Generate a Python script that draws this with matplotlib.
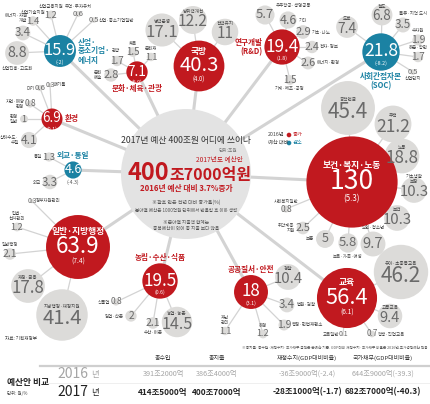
import matplotlib.pyplot as plt
from matplotlib.patches import Circle

plt.rcParams['font.family'] = ['Noto Sans CJK KR', 'DejaVu Sans']

RED = '#c1191f'
TEAL = '#1b82a3'
BUBBLE = '#dcdbd9'
CENTER = '#e3e3e3'
LINE = '#d3d3d3'

# ---- data (단위: 조원, 괄호 = 전년 대비 증가율 %) ----
main_names = ['보건·복지·노동', '일반·지방행정', '교육', '국방', '연구개발\n(R&D)',
              '사회간접자본\n(SOC)', '농림·수산·식품', '공공질서·안전',
              '산업·\n중소기업·\n에너지', '문화·체육·관광', '환경', '외교·통일']
main_values = [130, 63.9, 56.4, 40.3, 19.4, 21.8, 19.5, 18, 15.9, 7.1, 6.9, 4.6]
main_changes = ['5.3', '7.4', '6.1', '4.0', '1.8', '-8.2', '0.6', '3.1', '-2', '6.9', '0.1', '-4.3']

sub_names = [
    ['공적연금', '주택', '노동', '기초생활\n보장', '보건', '노인·청소년', '보육·가족·여성', '보훈', '취약계층\n지원', '사회복지일반'],
    ['지방행정·재정지원', '재정·금융', '일반행정', '입법·\n선거관리', '정부자원관리'],
    ['유아·초중등교육', '고등교육', '평생·직업교육', '교육일반'],
    ['병력운영', '방위력개선', '전력유지'],
    ['우주항공·생명공동', '기타', '기초·나노', '전자·정보', '에너지·환경', '기계·제조·공정'],
    ['도로', '철도', '물류·지역 도시', '수자원', '해운·항만', '산업단지'],
    ['농업·농촌', '수산·어촌', '임업·산촌', '식품업'],
    ['경찰', '법원·검찰', '행정·헌법재판소', '해경', '재난\n관리'],
    ['산업진흥·고도화', '에너지·자원\n개발', '산업기술지원', '산업금융지원', '무역·투자유치', '산업·중소기업일반'],
    ['문화\n예술', '관광', '체육', '문화재'],
    ['상하수도·\n수질', '환경\n일반', '자연·해양\n환경', '대기', '폐기물'],
    ['외교', '통일'],
]
sub_values = [
    [45.4, 21.2, 18.8, 10.3, 10.3, 9.7, 5.8, 5, 2.5, 0.8],
    [41.4, 17.8, 2.1, 1.2, 0.3],
    [46.2, 9.4, 0.7, 0.1],
    [17.1, 12.2, 11],
    [5.7, 4.6, 2.9, 2.4, 2.6, 1.5],
    [7.4, 6.8, 3.5, 1.9, 1.7, 0.5],
    [14.5, 2.1, 2, 0.8],
    [10.4, 3.4, 1.9, 1.2, 1.1],
    [8.8, 3.4, 1.4, 1.2, 0.6, 0.5],
    [2.8, 1.7, 1.5, 1.1],
    [4.1, 1, 0.8, 0.6, 0.3],
    [3.3, 1.3],
]

table_cols = ['총수입', '총지출', '재정수지(GDP대비비율)', '국가채무(GDP대비비율)']
table_years = ['2016', '2017']
row_2016 = ['391조2000억', '386조4000억', '-36조9000억(-2.4)', '644조9000억(-39.3)']
row_2017 = ['414조5000억', '400조7000억', '-28조1000억(-1.7)', '682조7000억(-40.3)']

# ---- layout (pixels) ----
K = 4.0  # radius = K * sqrt(value)
cx, cy, cr = 186, 174, 65
main_xy = [(352, 182), (78, 247), (347, 298), (199, 66), (282, 47), (381, 52),
           (160, 281), (251, 292), (60, 51), (137, 72), (52, 119), (73, 170)]
main_mode = ['in', 'in', 'in', 'in', 'l', 'b', 't', 't', 'r', 'b', 'r', 't']
sub_xy = [
    [(348, 108, 'in'), (393, 124, 'in'), (402, 156, 'in'), (414, 190, 'in'), (397, 218, 'in'),
     (373, 244, 't'), (348, 243, 'b'), (325, 239, 'l'), (303, 228, 'l'), (286, 209, 't')],
    [(62, 315, 'in'), (28, 286, 'in'), (10, 254, 't'), (17, 227, 't'), (32, 201, 'r')],
    [(401, 272, 'in'), (390, 316, 'in'), (372, 334, 'r'), (343, 334, 'l')],
    [(162, 30, 'in'), (193, 20, 'in'), (225, 32, 'in')],
    [(265, 15, 'rt'), (288, 20, 'r'), (303, 32, 'r'), (312, 47, 'r'), (308, 63, 'r'), (290, 80, 'b')],
    [(347, 27, 'in'), (382, 15, 'in'), (403, 25, 'tr'), (418, 40, 't'), (418, 57, 't'), (413, 72, 'b')],
    [(177, 322, 'in'), (153, 323, 'b'), (131, 316, 'l'), (116, 302, 'l')],
    [(288, 277, 'in'), (287, 305, 'r'), (284, 325, 'r'), (263, 334, 't'), (225, 331, 't')],
    [(17, 53, 'b'), (23, 33, 'tl'), (33, 21, 't'), (51, 15, 't'), (78, 14, 't'), (94, 20, 'r')],
    [(111, 75, 'l'), (117, 61, 'tl'), (133, 52, 't'), (151, 57, 't')],
    [(29, 140, 'l'), (24, 119, 'l'), (30, 104, 'l'), (40, 88, 'l'), (50, 85, 'r')],
    [(50, 182, 'l'), (49, 157, 'l')],
]


def num_fs(r):
    return max(5.0, 3.4 * r ** 0.45)


def fmt(v):
    return ('%g' % v)


def side_label(ax, x, y, r, mode, text, fs, color, weight='normal'):
    kw = dict(fontsize=fs, color=color, fontweight=weight, linespacing=1.0, zorder=5)
    if mode == 't':
        ax.text(x, y - r - 1.5, text, ha='center', va='bottom', **kw)
    elif mode == 'b':
        ax.text(x, y + r + 1.5, text, ha='center', va='top', **kw)
    elif mode == 'l':
        ax.text(x - r - 2, y, text, ha='right', va='center', **kw)
    elif mode == 'r':
        ax.text(x + r + 2, y, text, ha='left', va='center', **kw)
    elif mode == 'tr':
        ax.text(x - r * 0.6, y - r - 1.5, text, ha='left', va='bottom', **kw)
    elif mode == 'tl':
        ax.text(x + r * 0.6, y - r - 2.5, text, ha='right', va='bottom', **kw)
    elif mode == 'rt':
        ax.text(x + r + 1, y - r + 0.5, text, ha='left', va='center', **kw)


fig = plt.figure(figsize=(4.3, 4.04), dpi=100)
ax = fig.add_axes([0, 0, 1, 1])
ax.set_xlim(0, 430)
ax.set_ylim(404, 0)
ax.axis('off')

# center circle
ax.add_patch(Circle((cx, cy), cr, facecolor=CENTER, edgecolor='none', zorder=2))

for i, (mx, my) in enumerate(main_xy):
    ax.plot([cx, mx], [cy, my], color=LINE, lw=2.2, zorder=1, solid_capstyle='butt')
    mr = K * main_values[i] ** 0.5
    col = TEAL if main_changes[i].startswith('-') else RED
    # satellites
    for j, (sx, sy, mode) in enumerate(sub_xy[i]):
        v = sub_values[i][j]
        sr = K * v ** 0.5
        ax.plot([mx, sx], [my, sy], color=LINE, lw=0.9, zorder=1)
        ax.add_patch(Circle((sx, sy), sr, facecolor=BUBBLE, edgecolor='none', zorder=2))
        fs = num_fs(sr)
        h = fs * 1.389 * 0.72
        if mode == 'in':
            ax.text(sx, sy + 0.14 * sr, fmt(v), ha='center', va='center',
                    fontsize=fs, color='#6a6a6a', zorder=5)
            ax.text(sx, sy + 0.14 * sr - h / 2 - 2.5, sub_names[i][j], ha='center',
                    va='bottom', fontsize=3.3, color='#444444', linespacing=1.0, zorder=5)
        else:
            ax.text(sx, sy, fmt(v), ha='center', va='center', fontsize=fs,
                    color='#6a6a6a', zorder=5)
            side_label(ax, sx, sy, sr, mode, sub_names[i][j], 3.2, '#444444')

    # main bubble
    ax.add_patch(Circle((mx, my), mr, facecolor=col, edgecolor='none', zorder=3))
    fs = num_fs(mr)
    h = fs * 1.389 * 0.72
    ax.text(mx, my - 0.5, fmt(main_values[i]), ha='center', va='center', fontsize=fs,
            color='white', zorder=5)
    ch = '(' + main_changes[i] + ')'
    if mr >= 10:
        ax.text(mx, my + h / 2 + 2.5, ch, ha='center', va='top', fontsize=max(3.8, fs * 0.3),
                color='white', zorder=5)
    else:
        ax.text(mx, my + mr + 1, ch, ha='center', va='top', fontsize=3.8,
                color='#555555', zorder=5)
    if main_mode[i] == 'in':
        ax.text(mx, my - h / 2 - 3, main_names[i], ha='center', va='bottom',
                fontsize=6.3, color='white', fontweight='bold', zorder=5)
    else:
        side_label(ax, mx, my, mr, main_mode[i], main_names[i], 5.5, col, 'bold')

# center texts
ax.text(cx, cy - 34, '2017년 예산 400조원 어디에 쓰이나', ha='center', va='center',
        fontsize=6.3, color='#333333', zorder=5)
ax.text(cx + 42, cy - 24, '단위:조원', ha='center', va='center', fontsize=3.4,
        color='#777777', zorder=5)
ax.text(cx + 33, cy - 14, '2017년도 예산안', ha='center', va='center', fontsize=4.8,
        color=RED, zorder=5)
ax.text(cx - 17, cy - 1, '400', ha='right', va='center', fontsize=17, color=RED,
        fontweight='bold', zorder=5)
ax.text(cx - 17, cy + 1, '조7000억원', ha='left', va='center', fontsize=11.5, color=RED,
        fontweight='bold', zorder=5)
ax.text(cx, cy + 14, '2016년 예산 대비 3.7%증가', ha='center', va='center', fontsize=5.6,
        color=RED, fontweight='bold', zorder=5)
ax.text(cx, cy + 28, '※괄호 안은 전년 대비 증가율(%)', ha='center', va='center',
        fontsize=3.6, color='#555555', zorder=5)
ax.text(cx, cy + 36, '분야별 예산은 1000억원 단위에서 반올림 후 이하 생략', ha='center',
        va='center', fontsize=3.3, color='#555555', zorder=5)
ax.text(cx, cy + 48, '※분야별 지출액 합계는', ha='center', va='center', fontsize=3.4,
        color='#555555', zorder=5)
ax.text(cx, cy + 54, '중복예산이 있어 총 지출 보다 많음', ha='center', va='center',
        fontsize=3.4, color='#555555', zorder=5)

# legend
ax.text(268, 135, '2016년', ha='left', va='center', fontsize=3.8, color='#444444')
ax.text(268, 143, '예산 대비', ha='left', va='center', fontsize=3.8, color='#444444')
ax.add_patch(Circle((289, 135), 2.3, facecolor=RED, edgecolor='none'))
ax.add_patch(Circle((289, 143), 2.3, facecolor=TEAL, edgecolor='none'))
ax.text(293, 135, '증가', ha='left', va='center', fontsize=3.8, color=RED)
ax.text(293, 143, '감소', ha='left', va='center', fontsize=3.8, color=TEAL)

ax.text(5, 338, '자료: 기획재정부', ha='left', va='center', fontsize=3.3, color='#444444')

# table
ax.text(428, 348, '※총지출·총수입·재정수지·국가채무 금액은 본예산 기준. GDP대비 재정수지·국가채무 비율은 2016년 추가경정예산 적용',
        ha='right', va='center', fontsize=2.7, color='#555555')
col_x = [163, 217, 307, 383]
for x, t in zip(col_x, table_cols):
    ax.text(x, 358, t, ha='center', va='center', fontsize=4.3, color='#333333')
ax.plot([40, 430], [366, 366], color='#cfcfcf', lw=1.6)
ax.plot([45, 430], [383, 383], color='#ececec', lw=0.6)
ax.text(7, 383, '예산안 비교', ha='left', va='center', fontsize=6.3, color='#222222',
        fontweight='bold')
ax.text(7, 393, '단위: 원/%', ha='left', va='center', fontsize=3.2, color='#444444')
for yy, yr, row, c, w, f in [(374, table_years[0], row_2016, '#a5a5a5', 'normal', 5.2),
                             (392, table_years[1], row_2017, '#222222', 'bold', 6.0)]:
    ax.text(57, yy, yr, ha='left', va='center', fontsize=10, color=c)
    ax.text(91, yy + 1, '년', ha='left', va='center', fontsize=6, color=c)
    for x, t in zip(col_x, row):
        ax.text(x, yy, t, ha='center', va='center', fontsize=f, color=c, fontweight=w)

fig.savefig('out.png', dpi=100)
